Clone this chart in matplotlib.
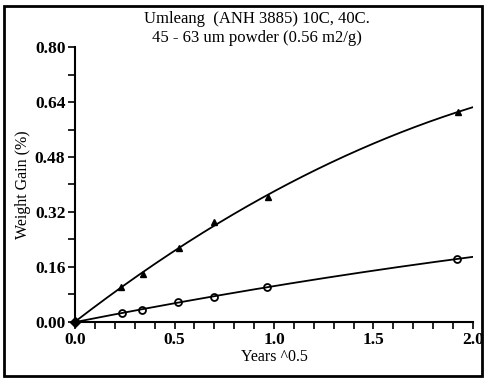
import numpy as np
import matplotlib
matplotlib.use("Agg")
import matplotlib.pyplot as plt
from matplotlib.patches import Rectangle
from matplotlib.ticker import MultipleLocator

plt.rcParams['font.family'] = ['Liberation Serif', 'DejaVu Serif']

# data
x_tri = [0.0, 0.23, 0.34, 0.52, 0.70, 0.97, 1.925]
y_tri = [0.0, 0.102, 0.140, 0.215, 0.290, 0.363, 0.612]
x_circ = [0.0, 0.236, 0.337, 0.518, 0.70, 0.965, 1.92]
y_circ = [0.0, 0.026, 0.035, 0.058, 0.073, 0.102, 0.183]

# smooth fitted curves through the points
xs = np.linspace(0, 2.0, 200)
fit_tri = np.polyfit(x_tri, y_tri, 2)
fit_circ = np.polyfit(x_circ, y_circ, 2)

fig = plt.figure(figsize=(4.85, 3.8), dpi=100)
ax = fig.add_axes([0.155, 0.153, 0.82, 0.723])

ax.plot(xs, np.polyval(fit_tri, xs), color='black', lw=1.3)
ax.plot(xs, np.polyval(fit_circ, xs), color='black', lw=1.3)
ax.plot(x_tri[1:], y_tri[1:], '^', color='black', ms=4.5)
ax.plot(x_circ[1:], y_circ[1:], 'o', mfc='none', mec='black', mew=1.3, ms=5)
ax.plot([0], [0], 'D', color='black', ms=5, clip_on=False)

ax.set_xlim(0, 2.0)
ax.set_ylim(0, 0.80)
ax.xaxis.set_major_locator(MultipleLocator(0.5))
ax.xaxis.set_minor_locator(MultipleLocator(0.1))
ax.yaxis.set_major_locator(MultipleLocator(0.16))
ax.yaxis.set_minor_locator(MultipleLocator(0.08))
ax.xaxis.set_major_formatter(plt.FormatStrFormatter('%.1f'))
ax.yaxis.set_major_formatter(plt.FormatStrFormatter('%.2f'))
ax.tick_params(which='both', direction='out', width=1.2, labelsize=12.5)
ax.tick_params(which='major', length=5)
ax.tick_params(which='minor', length=5)
ax.tick_params(axis='x', pad=2)
ax.tick_params(axis='y', pad=2)
for lab in ax.get_xticklabels() + ax.get_yticklabels():
    lab.set_fontweight('bold')

ax.spines['top'].set_visible(False)
ax.spines['right'].set_visible(False)
ax.spines['left'].set_linewidth(1.5)
ax.spines['bottom'].set_linewidth(1.5)

ax.set_xlabel('Years ^0.5', fontsize=11.5, labelpad=1)
ax.set_ylabel('Weight Gain (%)', fontsize=11.5, labelpad=3)

fig.text(0.53, 0.950, 'Umleang  (ANH 3885) 10C, 40C.', ha='center', va='center', fontsize=12)
fig.text(0.53, 0.900, '45 - 63 um powder (0.56 m2/g)', ha='center', va='center', fontsize=12)

fig.patches.append(Rectangle((0.008, 0.01), 0.985, 0.975, transform=fig.transFigure,
                             fill=False, edgecolor='black', lw=2))

fig.savefig('out.png', dpi=100)
